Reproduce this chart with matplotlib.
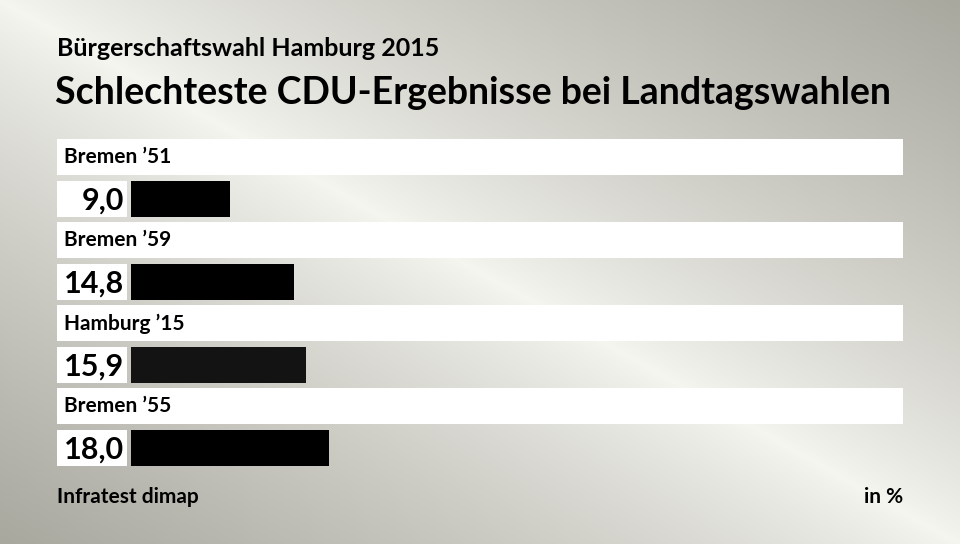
import numpy as np
import matplotlib.pyplot as plt

# Daten
labels = ["Bremen \u201951", "Bremen \u201959", "Hamburg \u201915", "Bremen \u201955"]
values = [9.0, 14.8, 15.9, 18.0]
value_text = ["9,0", "14,8", "15,9", "18,0"]
bar_colors = ["#000000", "#000000", "#131313", "#000000"]

plt.rcParams['font.family'] = ['Lato', 'DejaVu Sans']

W, H = 960, 544
fig = plt.figure(figsize=(W / 100, H / 100), dpi=100)

# Hintergrund: heller Streifen diagonal von oben links nach unten rechts
bg = fig.add_axes([0, 0, 1, 1], zorder=0)
yy, xx = np.mgrid[0:H, 0:W]
d = np.abs(H * xx - W * yy) / np.hypot(W, H)
t = np.clip(d / 470, 0, 1) ** 0.8
light = np.array([0.965, 0.965, 0.945])
dark = np.array([0.66, 0.66, 0.625])
img = light + (dark - light) * t[..., None]
bg.imshow(img, extent=[0, W, H, 0], aspect='auto')
bg.set_xlim(0, W)
bg.set_ylim(H, 0)
bg.axis('off')

# Achse für die Balken: 0 bei x=131 px, ~11 px pro Prozentpunkt, 83 px pro Zeile
px = 11.0
row = 83
ax = fig.add_axes([0, 0, 1, 1], zorder=1)
ax.patch.set_alpha(0)
ax.set_xlim(-131 / px, (W - 131) / px)
ax.set_ylim((H - 199) / row, -199 / row)
ax.axis('off')

pos = np.arange(len(values))
bh = 36 / row

# weiße Bänder für die Beschriftung
band_left = -(131 - 57) / px
band_right = (903 - 131) / px
ax.barh(pos - 0.5, band_right - band_left, left=band_left, height=bh,
        color='white', edgecolor='none')
# weiße Kästen für die Werte
box_w = -(131 - 127) / px - band_left
ax.barh(pos, box_w, left=band_left, height=bh, color='white', edgecolor='none')
# Balken
ax.barh(pos, values, height=bh, color=bar_colors, edgecolor='none')

for i in range(len(values)):
    ax.text(band_left + 7 / px, pos[i] - 0.5, labels[i], fontsize=15,
            fontweight='bold', va='center', ha='left')
    ax.text(-(131 - 124) / px, pos[i] + 0.02, value_text[i], fontsize=22,
            fontweight='bold', va='center', ha='right')

# Titel
fig.text(57 / W, 1 - 49 / H, "Bürgerschaftswahl Hamburg 2015", fontsize=18,
         fontweight='bold', va='center', ha='left')
fig.text(55 / W, 1 - 93 / H, "Schlechteste CDU-Ergebnisse bei Landtagswahlen",
         fontsize=27, fontweight='bold', va='center', ha='left')

# Fußzeile
fig.text(57 / W, 1 - 497 / H, "Infratest dimap", fontsize=15,
         fontweight='bold', va='center', ha='left')
fig.text(903 / W, 1 - 497 / H, "in %", fontsize=15,
         fontweight='bold', va='center', ha='right')

fig.savefig("out.png", dpi=100)
